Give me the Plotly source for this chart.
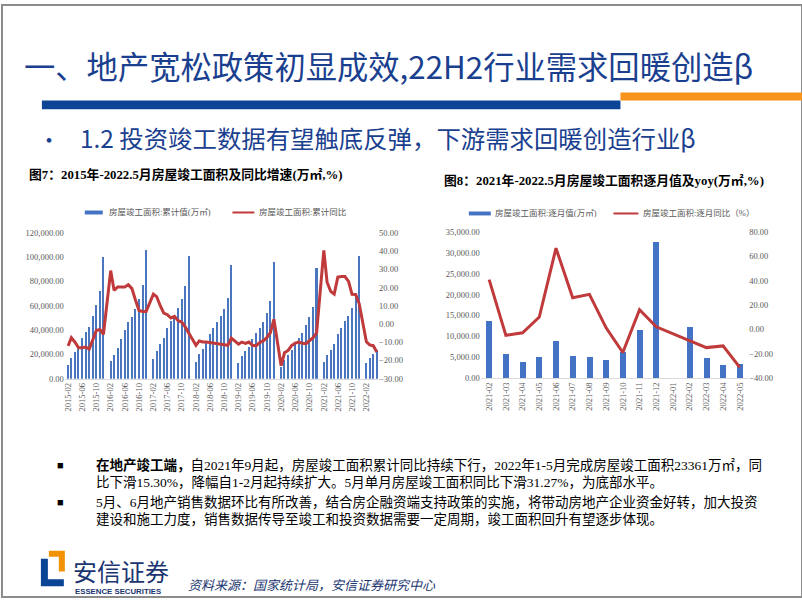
import plotly.graph_objects as go

W, H = 802, 602
def px(x): return x / W
def py(y): return 1 - y / H

# ---------------- data: chart 1 (cumulative completed floor space) ----------------
years_full = [2015, 2016, 2017, 2018, 2019, 2020, 2021]
months_cum = ["02", "03", "04", "05", "06", "07", "08", "09", "10", "11", "12"]
dates1 = [f"{y}-{m}-01" for y in years_full for m in months_cum] + \
         ["2022-02-01", "2022-03-01", "2022-04-01", "2022-05-01"]

cum_2015 = [11500, 17500, 22000, 24500, 33500, 38500, 43000, 51500, 61000, 72500, 100039]
cum_2016 = [14500, 20000, 25500, 33000, 40000, 46500, 51000, 57500, 65500, 77500, 106128]
cum_2017 = [16000, 23000, 28500, 34000, 42000, 47500, 52000, 58000, 65500, 76500, 101486]
cum_2018 = [14000, 20500, 24500, 29500, 37000, 41500, 46500, 51500, 57500, 66500, 93550]
cum_2019 = [13000, 18500, 22500, 26500, 33000, 37500, 42000, 47000, 54500, 64000, 95942]
cum_2020 = [9636, 15557, 19286, 23457, 29053, 33357, 38087, 44090, 50834, 59173, 91218]
cum_2021 = [14000, 20000, 23500, 28500, 36500, 42000, 47500, 52000, 58500, 69000, 101412]
cum_2022 = [12924, 17461, 20500, 23361]
cum_values = cum_2015 + cum_2016 + cum_2017 + cum_2018 + cum_2019 + cum_2020 + cum_2021 + cum_2022

yoy_2015 = [-12.0, -7.5, -10.0, -13.0, -13.0, -12.6, -13.8, -8.4, -3.6, -3.0, -5.7]
yoy_2016 = [29.3, 18.5, 20.3, 20.3, 20.3, 21.6, 19.4, 13.0, 7.4, 6.9, 6.9]
yoy_2017 = [16.4, 15.0, 10.0, 6.0, 5.1, 3.3, 4.2, 1.8, 1.1, -1.6, -5.0]
yoy_2018 = [-11.7, -9.3, -9.9, -9.9, -10.2, -10.6, -11.0, -11.3, -11.7, -11.7, -7.8]
yoy_2019 = [-11.1, -9.9, -10.6, -9.9, -11.7, -12.0, -10.2, -9.3, -7.5, -4.8, 2.6]
yoy_2020 = [-22.9, -15.8, -14.5, -11.8, -10.5, -9.9, -10.6, -10.8, -9.2, -7.5, -4.9]
yoy_2021 = [40.4, 22.9, 17.9, 16.4, 25.7, 26.0, 26.0, 23.4, 16.3, 16.2, 11.2]
yoy_2022 = [-9.8, -11.5, -11.9, -15.3]
cum_yoy = yoy_2015 + yoy_2016 + yoy_2017 + yoy_2018 + yoy_2019 + yoy_2020 + yoy_2021 + yoy_2022

# ---------------- data: chart 2 (monthly completed floor space) ----------------
months2 = ["2021-02", "2021-03", "2021-04", "2021-05", "2021-06", "2021-07", "2021-08",
           "2021-09", "2021-10", "2021-11", "2021-12", "2022-01", "2022-02", "2022-03",
           "2022-04", "2022-05"]
monthly_values = [13600, 5750, 3800, 4950, 8900, 5350, 4950, 4330, 6150, 11400, 32650,
                  None, 12200, 4720, 3150, 3400]
monthly_yoy = [40.9, -4.9, -2.8, 10.2, 66.8, 26.0, 28.8, 1.3, -19.0, 16.1, 2.1,
               None, -9.0, -15.0, -13.6, -31.27]

BLUE = "#4472c4"
RED = "#c0393b"
NAVY = "#1b3f8f"
TICK_FONT = dict(family="Liberation Serif, Noto Sans CJK SC", size=8.5, color="#595959")
CJK = "Liberation Serif, Noto Sans CJK SC"

fig = go.Figure()
fig.add_trace(go.Bar(x=dates1, y=cum_values, xaxis="x", yaxis="y",
                     marker=dict(color="#4a76bf", line=dict(width=0)),
                     width=13 * 86400000, showlegend=False))
fig.add_trace(go.Scatter(x=dates1, y=cum_yoy, xaxis="x", yaxis="y2", mode="lines",
                         line=dict(color=RED, width=3), showlegend=False))
fig.add_trace(go.Bar(x=months2, y=monthly_values, xaxis="x2", yaxis="y3",
                     marker=dict(color=BLUE, line=dict(width=0)), width=0.36,
                     showlegend=False))
fig.add_trace(go.Scatter(x=months2, y=monthly_yoy, xaxis="x2", yaxis="y4", mode="lines",
                         connectgaps=True, line=dict(color=RED, width=3),
                         showlegend=False))

axis_common = dict(showgrid=False, zeroline=False, tickfont=TICK_FONT, ticks="")
fig.update_layout(
    width=W, height=H, autosize=False, margin=dict(l=0, r=0, t=0, b=0),
    paper_bgcolor="white", plot_bgcolor="white", bargap=0,
    xaxis=dict(domain=[px(63), px(377)], anchor="y", type="date",
               range=["2015-01-04", "2022-05-12"], tickformat="%Y-%m", dtick="M4",
               tick0="2015-02-01", tickangle=-90, showline=True, linecolor="#d9d9d9",
               **axis_common),
    yaxis=dict(domain=[py(380), py(231.7)], anchor="x", range=[0, 120000], dtick=20000,
               tickformat=",.2f", **axis_common),
    yaxis2=dict(overlaying="y", anchor="x", side="right", range=[-30, 50], dtick=10,
                tickformat=".2f", **axis_common),
    xaxis2=dict(domain=[px(480), px(748)], anchor="y3", type="category", tickangle=-90,
                showline=True, linecolor="#d9d9d9", **axis_common),
    yaxis3=dict(domain=[py(379.3), py(231)], anchor="x2", range=[0, 35000], dtick=5000,
                tickformat=",.2f", **axis_common),
    yaxis4=dict(overlaying="y3", anchor="x2", side="right", range=[-40, 80], dtick=20,
                tickformat=".2f", **axis_common),
)

shapes = []
annotations = []

def text(x, y, s, size, color="#000", family=CJK, xanchor="left", yanchor="middle"):
    annotations.append(dict(x=px(x), y=py(y), xref="paper", yref="paper", text=s,
                            showarrow=False, xanchor=xanchor, yanchor=yanchor,
                            font=dict(size=size, color=color, family=family)))

# slide frame
shapes.append(dict(type="rect", xref="paper", yref="paper", x0=0, y0=0, x1=1, y1=1,
                   line=dict(color="#8c8c8c", width=2)))
# header
text(20, 62, "一、地产宽松政策初显成效,22H2行业需求回暖创造β", 31.3, NAVY,
     family="Noto Sans CJK SC")
shapes.append(dict(type="rect", xref="paper", yref="paper", x0=px(40), x1=px(620),
                   y0=py(106), y1=py(97), fillcolor="#0d4596", line=dict(width=0)))
shapes.append(dict(type="rect", xref="paper", yref="paper", x0=px(620), x1=px(802),
                   y0=py(97), y1=py(89), fillcolor="#f7941d", line=dict(width=0)))
text(34, 135, "•", 22, NAVY, family="Noto Sans CJK SC")
text(76, 135, "1.2 投资竣工数据有望触底反弹，下游需求回暖创造行业β", 24.4, NAVY,
     family="Noto Sans CJK SC")

# chart titles
text(25, 172, "<b>图7：2015年-2022.5月房屋竣工面积及同比增速(万㎡,%)</b>", 12.8, "#000")
text(441, 178, "<b>图8：2021年-2022.5月房屋竣工面积逐月值及yoy(万㎡,%)</b>", 12.8, "#000")

# legends (drawn manually)
LEG = dict(size=8.5, color="#595959")
shapes.append(dict(type="rect", xref="paper", yref="paper", x0=px(83), x1=px(101),
                   y0=py(213), y1=py(209), fillcolor=BLUE, line=dict(width=0)))
text(105, 211, "房屋竣工面积:累计值(万㎡)", **LEG)
shapes.append(dict(type="line", xref="paper", yref="paper", x0=px(231), x1=px(253),
                   y0=py(211), y1=py(211), line=dict(color=RED, width=2)))
text(256, 211, "房屋竣工面积:累计同比", **LEG)

shapes.append(dict(type="rect", xref="paper", yref="paper", x0=px(468), x1=px(490),
                   y0=py(214), y1=py(210), fillcolor=BLUE, line=dict(width=0)))
text(492, 212, "房屋竣工面积:逐月值(万㎡)", **LEG)
shapes.append(dict(type="line", xref="paper", yref="paper", x0=px(613), x1=px(638),
                   y0=py(212), y1=py(212), line=dict(color=RED, width=2)))
text(641, 212, "房屋竣工面积:逐月同比（%）", **LEG)

# bottom bullet text
BT = 13.5
text(53, 468, "■", 11, "#000")
text(92, 468, "<b>在地产竣工端，</b>自2021年9月起，房屋竣工面积累计同比持续下行，2022年1-5月完成房屋竣工面积23361万㎡，同", BT, "#000")
text(92, 486, "比下滑15.30%，降幅自1-2月起持续扩大。5月单月房屋竣工面积同比下滑31.27%，为底部水平。", BT, "#000")
text(53, 505, "■", 11, "#000")
text(92, 505, "5月、6月地产销售数据环比有所改善，结合房企融资端支持政策的实施，将带动房地产企业资金好转，加大投资", BT, "#000")
text(92, 523, "建设和施工力度，销售数据传导至竣工和投资数据需要一定周期，竣工面积回升有望逐步体现。", BT, "#000")

# logo
shapes.append(dict(type="path", xref="paper", yref="paper",
                   path=f"M {px(39)} {py(563)} L {px(46)} {py(563)} L {px(46)} {py(584)} "
                        f"L {px(62)} {py(584)} L {px(62)} {py(591)} L {px(39)} {py(591)} Z",
                   fillcolor="#0d4596", line=dict(width=0)))
shapes.append(dict(type="path", xref="paper", yref="paper",
                   path=f"M {px(47)} {py(555)} L {px(63)} {py(555)} L {px(63)} {py(576)} "
                        f"L {px(57)} {py(576)} L {px(57)} {py(561)} L {px(47)} {py(561)} Z",
                   fillcolor="#f39200", line=dict(width=0)))
text(69, 575, "安信证券", 24, "#1a3570", family="Noto Sans CJK SC")
text(71, 596, "<b>ESSENCE SECURITIES</b>", 7.8, "#1a3570",
     family="Liberation Sans Narrow, Liberation Sans")
text(184, 590, "<i>资料来源：国家统计局，安信证券研究中心</i>", 13, "#1a3570")

fig.update_layout(shapes=shapes, annotations=annotations)
fig.write_html("out.html", config={"displayModeBar": False},
               post_script="document.body.style.margin='0';document.body.style.overflow='hidden';")
